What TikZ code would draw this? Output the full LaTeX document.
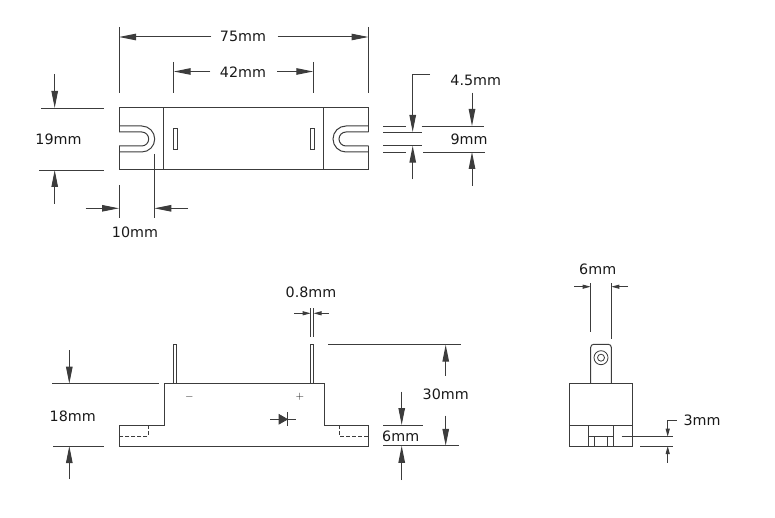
\documentclass[tikz,border=0pt]{standalone}
\usepackage{fontspec}
\setmainfont{DejaVu Sans}
\usetikzlibrary{arrows.meta}
\definecolor{DarkLine}{HTML}{3C3C3C}

\begin{document}
\begin{tikzpicture}[x=1pt,y=-1pt,line width=1pt,color=DarkLine,
        every node/.append style={font=\fontsize{14.3}{16}\selectfont,color=black!90,inner sep=0pt},
        big/.style={-{Triangle[length=17pt,width=6.5pt]}},
        small/.style={-{Triangle[length=8pt,width=4pt]}}]
      \useasboundingbox (0,0) rectangle (775,518);
      \tikzstyle{fine} = [line width=0.8pt]
      \tikzstyle{hidden} = [line width=0.8pt,dash pattern=on 4pt off 2pt]

      % top view
      \draw (119,132) -- (119,108) -- (368.5,108) -- (368.5,132);
      \draw (119,146) -- (119,170) -- (368.5,170) -- (368.5,146);
      \draw (163.5,108) -- (163.5,170);
      \draw (323.5,108) -- (323.5,170);
      \draw (119,126) -- (141.7,126) arc[start angle=-90,end angle=90,radius=13] -- (119,152);
      \draw (119,132) -- (141.7,132) arc[start angle=-90,end angle=90,radius=7] -- (119,146);
      \draw (368.5,126) -- (346,126) arc[start angle=270,end angle=90,radius=13] -- (368.5,152);
      \draw (368.5,132) -- (346,132) arc[start angle=270,end angle=90,radius=7] -- (368.5,146);
      \draw[fine] (173.3,128.7) rectangle (177,149.3);
      \draw[fine] (310.7,128.7) rectangle (314,149.3);

      % width and pin spacing
      \draw[fine] (119,27) -- (119,93);
      \draw[fine] (368.5,27) -- (368.5,93);
      \draw[fine] (173.7,62) -- (173.7,93);
      \draw[fine] (313.3,62) -- (313.3,93);
      \node (LenTotal) at (243,36) {75mm};
      \node (LenPins) at (243,72) {42mm};
      \draw[big] (LenTotal.west) ++(-8,1) -- (119,37);
      \draw[big] (LenTotal.east) ++(11,1) -- (368.5,37);
      \draw[big] (LenPins.west) ++(-9,-0.5) -- (173.7,71.5);
      \draw[big] (LenPins.east) ++(10.5,-0.5) -- (313.3,71.5);

      % body width
      \draw[fine] (41,108) -- (104,108);
      \draw[fine] (39,170) -- (104,170);
      \node (WidBody) at (58.5,139) {19mm};
      \draw[big] (54.7,74) -- (54.7,108);
      \draw[big] (54.7,204) -- (54.7,170);

      % slot depth
      \draw[fine] (119,185) -- (119,218);
      \draw[fine] (154.3,154) -- (154.3,218);
      \node (SlotDepth) at (135,232) {10mm};
      \draw[big] (85.7,208.3) -- (119,208.3);
      \draw[big] (188,208.3) -- (154.3,208.3);

      % slot sizes
      \draw[fine] (383,126) -- (405.7,126);
      \draw[fine] (421.7,126) -- (484,126);
      \draw[fine] (383,132) -- (422.3,132);
      \draw[fine] (383,145.7) -- (422.3,145.7);
      \draw[fine] (383,152) -- (405.7,152);
      \draw[fine] (423,152) -- (485,152);
      \node (SlotInner) at (475.7,80) {4.5mm};
      \node (SlotOuter) at (469,139) {9mm};
      \draw[big] (430,74.7) -- (412.7,74.7) -- (412.7,132);
      \draw[big] (412.7,179.3) -- (412.7,145.7);
      \draw[big] (472,92.7) -- (472,126);
      \draw[big] (472,185.7) -- (472,152);

      % front view
      \draw (119.3,425) -- (164,425) -- (164,383.7) -- (324,383.7) -- (324,425) -- (368.7,425) -- (368.7,446) -- (119.3,446) -- cycle;
      \draw[hidden] (148.3,425) -- (148.3,436) -- (119.3,436);
      \draw[hidden] (339.3,425) -- (339.3,436) -- (368.7,436);
      \draw[fine] (173.7,383.7) -- (173.7,344.3) -- (176.7,344.3) -- (176.7,383.7);
      \draw[fine] (310.7,383.7) -- (310.7,344.3) -- (313.5,344.3) -- (313.5,383.7);
      \node (Minus) at (189.3,396.7) {\fontsize{11}{11}\selectfont$-$};
      \node (Plus) at (300,397) {\fontsize{11}{11}\selectfont$+$};

      % diode mark
      \draw[fine] (270,419.3) -- (295.7,419.3);
      \draw[fine,fill=DarkLine] (279,414.5) -- (287.3,419.3) -- (279,424) -- cycle;
      \draw[fine] (287.3,412.3) -- (287.3,426.3);

      % body height
      \draw[fine] (52.3,383.7) -- (159,383.7);
      \draw[fine] (53,446) -- (104,446);
      \node (HgtBody) at (72.7,416.7) {18mm};
      \draw[big] (69.3,350) -- (69.3,383.7);
      \draw[big] (69.3,479) -- (69.3,446);

      % pin thickness
      \draw[fine] (310.7,308) -- (310.7,337);
      \draw[fine] (313.5,308) -- (313.5,337);
      \node (PinThick) at (311,292.7) {0.8mm};
      \draw[small] (294,313.3) -- (310.7,313.3);
      \draw[small] (329,313.3) -- (313.5,313.3);

      % total height
      \draw[fine] (328.3,344.7) -- (460.7,344.7);
      \draw[fine] (431.7,445.8) -- (459,445.8);
      \node (HgtTotal) at (445.7,394) {30mm};
      \draw[big] (445.7,375.7) -- (445.7,344.7);
      \draw[big] (445.7,415.7) -- (445.7,445.8);

      % base height
      \draw[fine] (383.3,425) -- (422.7,425);
      \draw[fine] (383.3,445.8) -- (431.7,445.8);
      \node (HgtBase) at (400.7,436) {6mm};
      \draw[big] (401.7,391.7) -- (401.7,425);
      \draw[big] (401.7,480) -- (401.7,445.8);

      % side view
      \draw (569.7,383.7) rectangle (632.3,446);
      \draw (569.7,425) -- (632.3,425);
      \draw (588.3,425) -- (588.3,446);
      \draw (613.7,425) -- (613.7,446);
      \draw[fine] (588.3,436.3) -- (613.7,436.3);
      \draw[fine] (594.3,436.3) -- (594.3,446);
      \draw[fine] (607.7,436.3) -- (607.7,446);
      \draw[rounded corners=3pt] (590.7,383.7) -- (590.7,344.3) -- (611.3,344.3) -- (611.3,383.7);
      \draw[fine] (601,357.7) circle (7);
      \draw[fine] (601,357.7) circle (3.5);

      % tab width
      \draw[fine] (590.7,283) -- (590.7,332);
      \draw[fine] (611.3,283) -- (611.3,339.3);
      \node (TabWidth) at (597.7,269.3) {6mm};
      \draw[small] (574,286.7) -- (590.7,286.7);
      \draw[small] (628,286.7) -- (611.3,286.7);

      % recess height
      \draw[fine] (621.7,436.7) -- (672.7,436.7);
      \draw[fine] (640,446) -- (672.7,446);
      \node (Recess) at (702,420.3) {3mm};
      \draw[small] (676.7,420.3) -- (667.7,420.3) -- (667.7,436.7);
      \draw[small] (667.7,462.7) -- (667.7,446);
    \end{tikzpicture}
\end{document}
